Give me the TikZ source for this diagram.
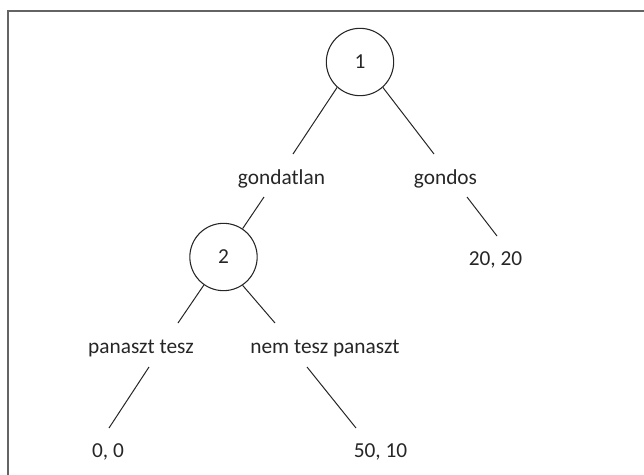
\documentclass[tikz,border=0pt]{standalone}
\usepackage{fontspec}
\setmainfont{Carlito}
\definecolor{framegray}{RGB}{100,100,100}
\definecolor{inkgray}{RGB}{38,38,38}
\begin{document}
\begin{tikzpicture}[x=0.75pt,y=-0.75pt,
  frameline/.style={draw=framegray,line width=1.2pt},
  move/.style={circle,draw=inkgray,line width=0.8pt,minimum size=50.5pt,inner sep=0pt,text=inkgray,font=\fontsize{16}{18}\selectfont},
  lbl/.style={anchor=base,inner sep=0pt,text=inkgray,font=\fontsize{16}{18}\selectfont},
  edge/.style={draw=inkgray,line width=0.75pt}]
\useasboundingbox (0,0) rectangle (644,475);
% partial frame: top and left sides
\coordinate (ftr) at (644,11);
\coordinate (ftl) at (8,11);
\coordinate (fbl) at (8,475);
\draw[frameline] (ftr) -- (ftl) -- (fbl);

% decision nodes
\node[move] (c1) at (360,62) {1};
\node[move] (c2) at (223.5,257) {2};

% action and payoff labels
\node[lbl] (gondatlan) at (281.5,184) {gondatlan};
\node[lbl] (gondos) at (445.5,184) {gondos};
\node[lbl] (panaszt) at (141,353) {panaszt tesz};
\node[lbl] (nemtesz) at (325,353) {nem tesz panaszt};
\node[lbl] (p00) at (108,457.5) {0, 0};
\node[lbl] (p5010) at (380.5,457.5) {50, 10};
\node[lbl] (p2020) at (495.5,265) {20, 20};

% free line ends
\coordinate (e1) at (293,154);
\coordinate (e2) at (434,154);
\coordinate (s3) at (264,197);
\coordinate (e4) at (178,323);
\coordinate (e5) at (275,323);
\coordinate (s6) at (149,367);
\coordinate (e6) at (109,428);
\coordinate (s7) at (307,367);
\coordinate (e7) at (356,428);
\coordinate (s8) at (467,197);
\coordinate (e8) at (497,236);

% branches
\draw[edge] (c1.228.7) -- (e1);
\draw[edge] (c1.312.6) -- (e2);
\draw[edge] (s3) -- (c2.56);
\draw[edge] (c2.235.6) -- (e4);
\draw[edge] (c2.304.4) -- (e5);
\draw[edge] (s6) -- (e6);
\draw[edge] (s7) -- (e7);
\draw[edge] (s8) -- (e8);
\end{tikzpicture}
\end{document}
